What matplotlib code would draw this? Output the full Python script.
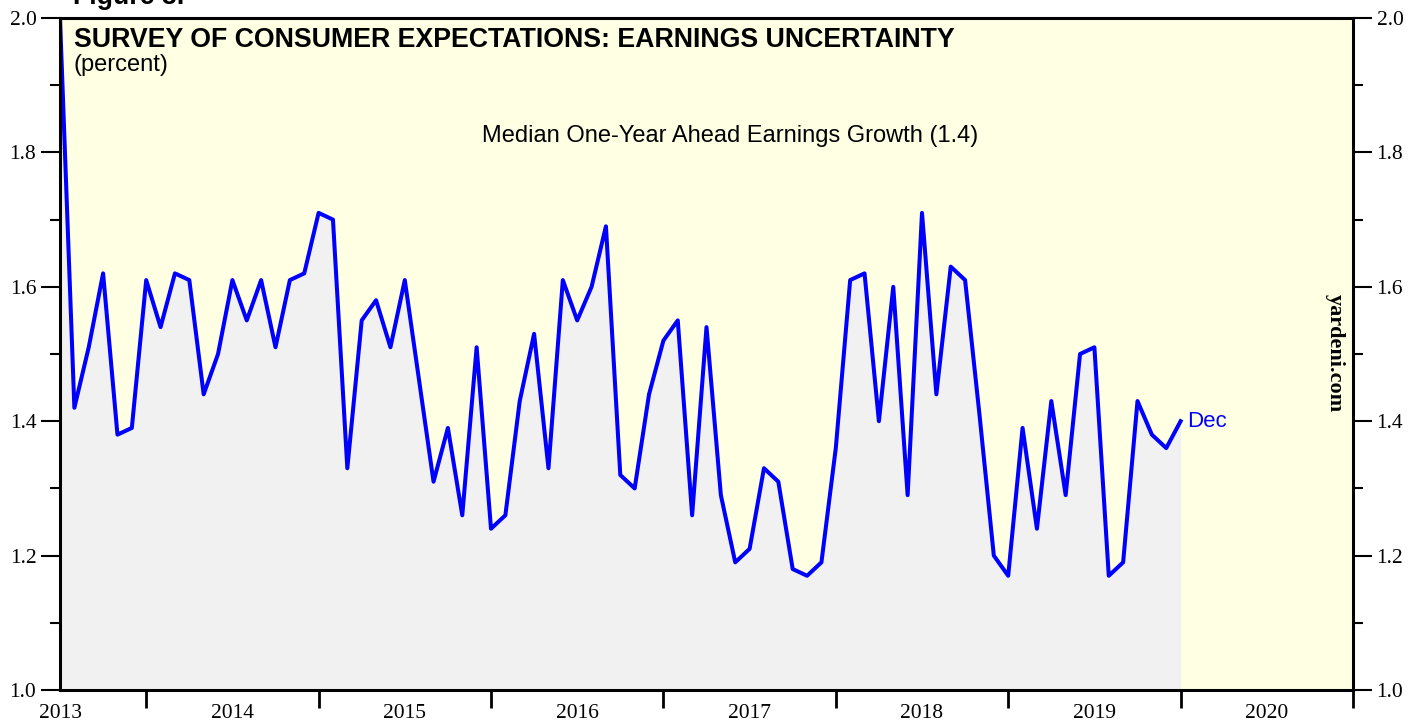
import numpy as np
import matplotlib.pyplot as plt
from matplotlib.ticker import MultipleLocator, FixedLocator, NullFormatter

# monthly data, Jun 2013 .. Dec 2019
start_year = 2013
start_month = 6
values = [
    2.00, 1.42, 1.51, 1.62, 1.38, 1.39, 1.61,                    # 2013 Jun-Dec
    1.54, 1.62, 1.61, 1.44, 1.50, 1.61, 1.55, 1.61, 1.51, 1.61, 1.62, 1.71,  # 2014
    1.70, 1.33, 1.55, 1.58, 1.51, 1.61, 1.46, 1.31, 1.39, 1.26, 1.51, 1.24,  # 2015
    1.26, 1.43, 1.53, 1.33, 1.61, 1.55, 1.60, 1.69, 1.32, 1.30, 1.44, 1.52,  # 2016
    1.55, 1.26, 1.54, 1.29, 1.19, 1.21, 1.33, 1.31, 1.18, 1.17, 1.19, 1.36,  # 2017
    1.61, 1.62, 1.40, 1.60, 1.29, 1.71, 1.44, 1.63, 1.61, 1.41, 1.20, 1.17,  # 2018
    1.39, 1.24, 1.43, 1.29, 1.50, 1.51, 1.17, 1.19, 1.43, 1.38, 1.36, 1.40,  # 2019
]
year_labels = ["2013", "2014", "2015", "2016", "2017", "2018", "2019", "2020"]

n = len(values)
months = start_month + np.arange(n)
# plot each month at its end
x = start_year + months / 12.0
y = np.array(values)

bg = "#ffffe3"
fill_col = "#f1f1f1"

fig = plt.figure(figsize=(14.21, 7.21), dpi=100)
ax = fig.add_axes([60 / 1421, 1 - 690 / 721, 1293 / 1421, 672 / 721])
ax.set_facecolor(bg)

ax.fill_between(x, 1.0, y, color=fill_col, lw=0, zorder=1)
ax.plot(x, y, color="#0000ff", lw=2.9, zorder=3)

ax.set_xlim(2013.5, 2021.0)
ax.set_ylim(1.0, 2.0)

for s in ax.spines.values():
    s.set_linewidth(2.2)
    s.set_zorder(5)

# y ticks on both sides
ax.yaxis.set_major_locator(MultipleLocator(0.2))
ax.yaxis.set_minor_locator(MultipleLocator(0.1))
ax.yaxis.set_major_formatter(plt.FuncFormatter(lambda v, p: f"{v:.1f}"))
ax.tick_params(axis="y", which="both", left=True, right=True,
               labelleft=True, labelright=True, direction="out",
               width=1.5, labelsize=15.5, pad=3)
ax.tick_params(axis="y", which="major", length=14)
ax.tick_params(axis="y", which="minor", length=7)

# x ticks: year boundaries as marks, labels at mid-year
ax.xaxis.set_major_locator(FixedLocator(np.arange(2014, 2022)))
ax.xaxis.set_major_formatter(NullFormatter())
ax.xaxis.set_minor_locator(FixedLocator(np.arange(2013.5, 2021.0, 1.0)))
ax.xaxis.set_minor_formatter(plt.FixedFormatter(year_labels))
ax.tick_params(axis="x", which="major", direction="out", length=13, width=2)
ax.tick_params(axis="x", which="minor", length=0, labelsize=15.5, pad=10)

for lab in ax.get_xticklabels(which="both") + ax.get_yticklabels():
    lab.set_family("Liberation Serif")

ax.text(0.0105, 0.986, "SURVEY OF CONSUMER EXPECTATIONS: EARNINGS UNCERTAINTY",
        transform=ax.transAxes, fontsize=19.3, fontweight="bold",
        family="Liberation Sans", va="top", ha="left")
ax.text(0.0105, 0.947, "(percent)", transform=ax.transAxes, fontsize=17,
        family="Liberation Sans", va="top", ha="left")
ax.text(0.518, 0.825, "Median One-Year Ahead Earnings Growth (1.4)",
        transform=ax.transAxes, fontsize=17, family="Liberation Sans",
        ha="center", va="center")
ax.annotate("Dec", xy=(x[-1], y[-1]), xytext=(5, 0), textcoords="offset points",
            color="#0000ff", fontsize=16, family="Liberation Sans",
            va="center", ha="left")
ax.text(0.986, 0.502, "yardeni.com", transform=ax.transAxes, rotation=270,
        fontsize=16, fontweight="bold", family="Liberation Serif",
        ha="center", va="center")

fig.text(73 / 1421, 1 - 4 / 721, "Figure 3.", fontsize=19.3, fontweight="bold",
         family="Liberation Sans", ha="left", va="baseline")

fig.savefig("out.png", dpi=100, facecolor="white")
